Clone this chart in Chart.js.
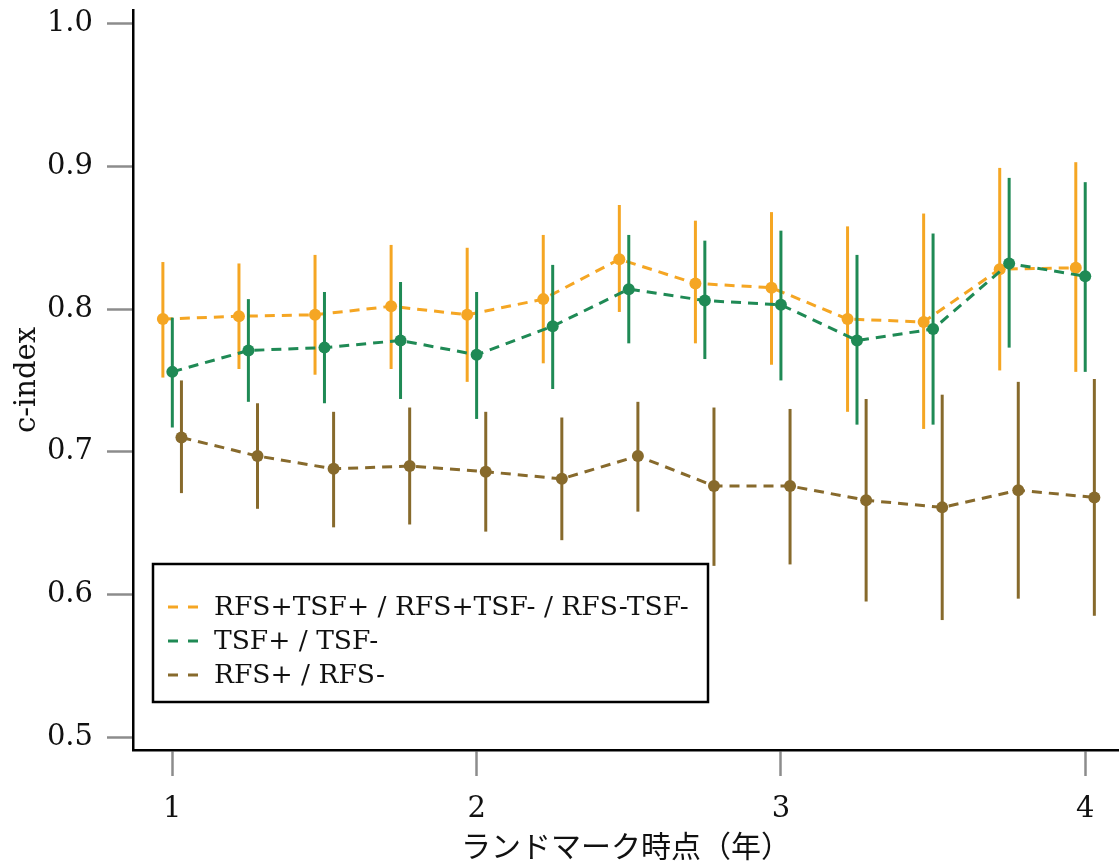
<!DOCTYPE html>
<html><head><meta charset="utf-8">
<script src="https://cdn.jsdelivr.net/npm/chart.js@4/dist/chart.umd.min.js"></script>
<style>html,body{margin:0;padding:0;background:#fff;} canvas{display:block;}</style>
</head><body>
<canvas id="c" width="1119" height="861"></canvas>
<script>
// ---- data ----
const landmarks = [1, 1.25, 1.5, 1.75, 2, 2.25, 2.5, 2.75, 3, 3.25, 3.5, 3.75, 4];
const groupOffsets = [-0.031, 0, 0.03];
const seriesLabels = ['RFS+TSF+ / RFS+TSF- / RFS-TSF-', 'TSF+ / TSF-', 'RFS+ / RFS-'];
const seriesColors = ['#F5A623', '#1F8A55', '#876A2C'];

const comboCIndex = [0.793, 0.795, 0.796, 0.802, 0.796, 0.807, 0.835, 0.818, 0.815, 0.793, 0.791, 0.828, 0.829];
const comboLow     = [0.752, 0.758, 0.754, 0.758, 0.749, 0.762, 0.798, 0.776, 0.761, 0.728, 0.716, 0.757, 0.756];
const comboHigh    = [0.833, 0.832, 0.838, 0.845, 0.843, 0.852, 0.873, 0.862, 0.868, 0.858, 0.867, 0.899, 0.903];

const tsfCIndex = [0.756, 0.771, 0.773, 0.778, 0.768, 0.788, 0.814, 0.806, 0.803, 0.778, 0.786, 0.832, 0.823];
const tsfLow    = [0.717, 0.735, 0.734, 0.737, 0.723, 0.744, 0.776, 0.765, 0.750, 0.719, 0.719, 0.773, 0.756];
const tsfHigh   = [0.794, 0.807, 0.812, 0.819, 0.812, 0.831, 0.852, 0.848, 0.855, 0.838, 0.853, 0.892, 0.889];

const rfsCIndex = [0.710, 0.697, 0.688, 0.690, 0.686, 0.681, 0.697, 0.676, 0.676, 0.666, 0.661, 0.673, 0.668];
const rfsLow    = [0.671, 0.660, 0.647, 0.649, 0.644, 0.638, 0.658, 0.620, 0.621, 0.595, 0.582, 0.597, 0.585];
const rfsHigh   = [0.750, 0.734, 0.728, 0.731, 0.728, 0.724, 0.735, 0.731, 0.730, 0.737, 0.740, 0.749, 0.751];

const yTickValues = [0.5, 0.6, 0.7, 0.8, 0.9, 1.0];
const xTickValues = [1, 2, 3, 4];
const xTitle = 'ランドマーク時点（年）';
const yTitle = 'c-index';

const allValues = [comboCIndex, tsfCIndex, rfsCIndex];
const allLow = [comboLow, tsfLow, rfsLow];
const allHigh = [comboHigh, tsfHigh, rfsHigh];

const serif = "'DejaVu Serif', 'Noto Sans CJK JP', serif";

const errorBars = {
  id: 'errorBars',
  beforeDatasetDraw(chart, args) {
    const i = args.index;
    const c = chart.ctx, xs = chart.scales.x, ys = chart.scales.y;
    c.save();
    c.strokeStyle = seriesColors[i];
    c.lineWidth = 3;
    c.setLineDash([]);
    landmarks.forEach((x, j) => {
      const px = xs.getPixelForValue(x + groupOffsets[i]);
      c.beginPath();
      c.moveTo(px, ys.getPixelForValue(allLow[i][j]));
      c.lineTo(px, ys.getPixelForValue(allHigh[i][j]));
      c.stroke();
    });
    c.restore();
  }
};

const legendBox = {
  id: 'legendBox',
  afterDraw(chart) {
    const c = chart.ctx;
    c.save();
    c.strokeStyle = '#000';
    c.lineWidth = 2.5;
    c.setLineDash([]);
    c.strokeRect(153, 564, 555, 138);
    c.font = "26.5px " + serif;
    c.textBaseline = 'middle';
    c.fillStyle = '#111';
    seriesLabels.forEach((lab, i) => {
      const y = 607 + i * 34;
      c.strokeStyle = seriesColors[i];
      c.lineWidth = 3;
      c.setLineDash([10, 10]);
      c.beginPath();
      c.moveTo(168, y);
      c.lineTo(198, y);
      c.stroke();
      c.fillText(lab, 214, y + 1);
    });
    c.restore();
  }
};

new Chart(document.getElementById('c'), {
  type: 'line',
  data: {
    datasets: seriesLabels.map((lab, i) => ({
      label: lab,
      data: landmarks.map((x, j) => ({ x: x + groupOffsets[i], y: allValues[i][j] })),
      borderColor: seriesColors[i],
      backgroundColor: seriesColors[i],
      borderWidth: 3,
      borderDash: [10, 7],
      pointRadius: 6,
      pointHoverRadius: 6,
      pointBorderWidth: 0,
      tension: 0,
      order: 3 - i,
      clip: false
    }))
  },
  options: {
    responsive: false,
    animation: false,
    devicePixelRatio: 1,
    layout: { autoPadding: false, padding: { top: 10, right: 0, left: 0, bottom: 0 } },
    plugins: { legend: { display: false }, tooltip: { enabled: false } },
    scales: {
      x: {
        type: 'linear', min: 0.8708, max: 4.111,
        afterFit(s) { s.height = 111; s.paddingLeft = 0; s.paddingRight = 0; },
        afterBuildTicks(s) { s.ticks = xTickValues.map(v => ({ value: v })); },
        grid: { drawOnChartArea: false, drawTicks: true, tickLength: 26, tickColor: '#8c8c8c', tickWidth: 2.5 },
        border: { display: true, color: '#000', width: 2.5 },
        ticks: { font: { family: serif, size: 29 }, color: '#111', padding: 16, maxRotation: 0, callback: v => String(v) },
        title: { display: true, text: xTitle, font: { family: "'Noto Sans CJK JP', sans-serif", size: 30, lineHeight: 1.0 }, color: '#111', padding: 0 }
      },
      y: {
        type: 'linear', min: 0.4909, max: 1.0097,
        afterFit(s) { s.width = 133; s.paddingTop = 0; s.paddingBottom = 0; },
        afterBuildTicks(s) { s.ticks = yTickValues.map(v => ({ value: v })); },
        grid: { drawOnChartArea: false, drawTicks: true, tickLength: 26, tickColor: '#8c8c8c', tickWidth: 2.5 },
        border: { display: true, color: '#000', width: 2.5 },
        ticks: { font: { family: serif, size: 29 }, color: '#111', padding: 14, callback: v => v.toFixed(1) },
        title: { display: true, text: yTitle, font: { family: serif, size: 29 }, color: '#111', padding: { top: 10, bottom: 0 } }
      }
    }
  },
  plugins: [errorBars, legendBox]
});
</script>
</body></html>
